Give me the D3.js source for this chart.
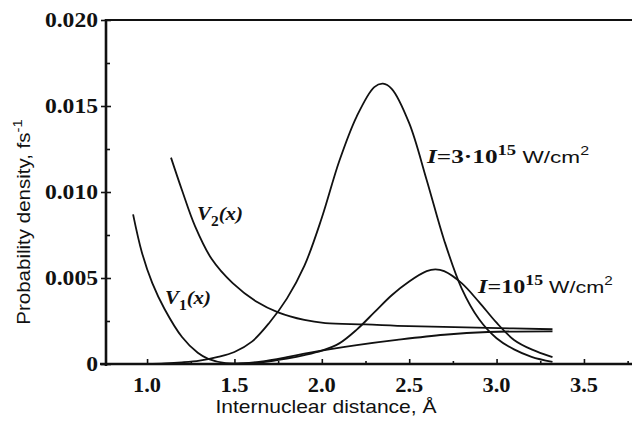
<!DOCTYPE html>
<html>
<head>
<meta charset="utf-8">
<script src="https://cdn.jsdelivr.net/npm/d3@7"></script>
<style>
  html, body { margin: 0; background: #fff; }
  svg { display: block; }
</style>
</head>
<body>
<svg id="chart" width="632" height="421"></svg>
<script>
// Potential curves V1(x), V2(x) (arbitrary units on the same axis)
const v1X = [0.92, 0.97, 1.03, 1.10, 1.20, 1.29, 1.35, 1.45, 1.55, 1.65, 1.80, 1.90, 2.05, 2.20, 2.43, 2.70, 2.95, 3.32];
const v1Y = [0.0087, 0.0065, 0.0047, 0.0032, 0.00157, 0.00065, 0.0003, 0.00005, 0.00004, 0.00014, 0.0004, 0.0006, 0.00087, 0.0011, 0.0014, 0.0017, 0.00186, 0.0019];

const v2X = [1.137, 1.20, 1.275, 1.37, 1.49, 1.63, 1.75, 1.90, 2.02, 2.25, 2.50, 2.95, 3.32];
const v2Y = [0.0120, 0.0101, 0.0080, 0.0061, 0.0047, 0.0036, 0.0030, 0.00256, 0.00238, 0.0023, 0.0022, 0.0021, 0.00202];

// Probability density at I = 3·10^15 W/cm^2
const p3X = [0.93, 1.0, 1.1, 1.2, 1.3, 1.4, 1.5, 1.6, 1.7, 1.8, 1.9, 2.0, 2.1, 2.2, 2.3, 2.35, 2.4, 2.5, 2.6, 2.7, 2.8, 2.9, 3.0, 3.1, 3.2, 3.32];
const p3Y = [0, 0.00001, 0.00004, 0.0001, 0.0002, 0.0004, 0.0007, 0.0013, 0.0024, 0.0038, 0.0057, 0.0085, 0.0118, 0.0144, 0.0161, 0.0163, 0.0160, 0.0140, 0.0107, 0.0072, 0.0044, 0.0026, 0.0015, 0.00085, 0.00042, 0.00012];

// Probability density at I = 10^15 W/cm^2
const p1X = [0.93, 1.2, 1.4, 1.5, 1.6, 1.7, 1.8, 1.9, 2.0, 2.1, 2.2, 2.3, 2.4, 2.5, 2.6, 2.65, 2.7, 2.8, 2.9, 3.0, 3.1, 3.2, 3.32];
const p1Y = [0, 0, 0.00001, 0.00002, 0.00006, 0.00016, 0.00032, 0.00052, 0.00078, 0.0012, 0.0020, 0.0030, 0.0040, 0.0048, 0.0054, 0.0055, 0.0054, 0.0047, 0.0036, 0.0024, 0.0014, 0.00085, 0.0004];

// Axis ticks
const xMajor = [1.0, 1.5, 2.0, 2.5, 3.0, 3.5];
const xMinor = [1.25, 1.75, 2.25, 2.75, 3.25, 3.75];
const yMajor = [0, 0.005, 0.010, 0.015, 0.020];
const yMinor = [0.0025, 0.0075, 0.0125, 0.0175];
const xDomain = [0.765, 3.775];
const yDomain = [0, 0.020];

const xTitle = "Internuclear distance, Å";
const yTitle = "Probability density, fs";

const serif = "'Liberation Serif','Times New Roman',serif";
const sans = "'Liberation Sans',Arial,Helvetica,sans-serif";
const ink = "#111";

const svg = d3.select("#chart");
const W = 632, H = 421;
const margin = { left: 106, top: 20, right: 0, bottom: 57 };

const x = d3.scaleLinear().domain(xDomain).range([margin.left, W - margin.right]);
const y = d3.scaleLinear().domain(yDomain).range([H - margin.bottom, margin.top]);

// text placed with a horizontal stretch (wide type face)
function wideText(parent, tx, ty, k, rot) {
  return parent.append("text")
    .attr("transform", `translate(${tx},${ty})` + (rot ? ` rotate(${rot})` : "") + ` scale(${k},1)`)
    .attr("fill", ink);
}

// ----- curves -----
const line = d3.line()
  .x(d => x(d[0]))
  .y(d => y(Math.max(0, d[1])))
  .curve(d3.curveCatmullRom.alpha(0.5));

const series = [
  d3.zip(v1X, v1Y),
  d3.zip(v2X, v2Y),
  d3.zip(p3X, p3Y),
  d3.zip(p1X, p1Y)
];

svg.append("g").selectAll("path")
  .data(series)
  .join("path")
  .attr("d", line)
  .attr("fill", "none")
  .attr("stroke", ink)
  .attr("stroke-width", 1.8)
  .attr("stroke-linejoin", "round");

// ----- frame and axes -----
const x0 = x.range()[0], x1 = x.range()[1];
const y0 = y.range()[0], y1 = y.range()[1];

const axisStyle = g => {
  g.select(".domain").remove();
  g.selectAll(".tick line").attr("stroke", ink).attr("stroke-width", 1.6);
  g.selectAll(".tick text").remove();
};

// left: outward and inward major ticks, inward minor ticks
svg.append("g").attr("transform", `translate(${x0},0)`)
  .call(d3.axisLeft(y).tickValues(yMajor).tickSize(5).tickFormat(""))
  .call(axisStyle);
svg.append("g").attr("transform", `translate(${x0},0)`)
  .call(d3.axisRight(y).tickValues(yMajor).tickSize(5).tickFormat(""))
  .call(axisStyle);
svg.append("g").attr("transform", `translate(${x0},0)`)
  .call(d3.axisRight(y).tickValues(yMinor).tickSize(4).tickFormat(""))
  .call(axisStyle);

// bottom: inward ticks
svg.append("g").attr("transform", `translate(0,${y0})`)
  .call(d3.axisTop(x).tickValues(xMajor).tickSize(5).tickFormat(""))
  .call(axisStyle);
svg.append("g").attr("transform", `translate(0,${y0})`)
  .call(d3.axisTop(x).tickValues(xMinor).tickSize(3).tickFormat(""))
  .call(axisStyle);

// axis lines
svg.append("line").attr("x1", x0).attr("x2", x0).attr("y1", y1 - 1).attr("y2", y0 + 2)
  .attr("stroke", ink).attr("stroke-width", 2.6);
svg.append("line").attr("x1", x0 - 6).attr("x2", x1).attr("y1", y0).attr("y2", y0)
  .attr("stroke", ink).attr("stroke-width", 2.6);
svg.append("line").attr("x1", x0).attr("x2", x1).attr("y1", y1).attr("y2", y1)
  .attr("stroke", ink).attr("stroke-width", 2.2);

// tick labels
const tickFont = g => g.attr("font-family", serif).attr("font-weight", "bold").attr("font-size", 20);

yMajor.forEach(v => {
  wideText(svg, x0 - 8, y(v) + 7, 1.18)
    .call(tickFont)
    .attr("text-anchor", "end")
    .text(v === 0 ? "0" : v.toFixed(3));
});

xMajor.forEach(v => {
  wideText(svg, x(v), y0 + 28, 1.12)
    .call(tickFont)
    .attr("text-anchor", "middle")
    .text(v.toFixed(1));
});

// axis titles
wideText(svg, 326, 413, 1.17)
  .attr("font-family", sans).attr("font-size", 18)
  .attr("text-anchor", "middle")
  .text(xTitle);

const yt = wideText(svg, 30, (y0 + y1) / 2 + 30, 1.14, -90)
  .attr("font-family", sans).attr("font-size", 18)
  .attr("text-anchor", "middle");
yt.append("tspan").text(yTitle);
yt.append("tspan").attr("font-size", 13).attr("dy", -8).text("-1");

// ----- curve labels -----
function vLabel(tx, ty, idx) {
  const t = wideText(svg, tx, ty, 1.1)
    .attr("font-family", serif).attr("font-weight", "bold")
    .attr("font-style", "italic").attr("font-size", 19);
  t.append("tspan").text("V");
  t.append("tspan").attr("font-size", 14).attr("font-style", "normal").attr("dy", 6).text(idx);
  t.append("tspan").attr("dy", -6).text("(x)");
}
vLabel(197, 220, "2");
vLabel(165, 304, "1");

function intensityLabel(tx, ty, k, mant) {
  const t = wideText(svg, tx, ty, k)
    .attr("font-family", serif).attr("font-weight", "bold").attr("font-size", 19);
  t.append("tspan").attr("font-style", "italic").text("I");
  t.append("tspan").text("=" + mant + "10");
  t.append("tspan").attr("font-size", 14).attr("dy", -8).text("15");
  t.append("tspan").attr("dy", 8).attr("font-family", sans).attr("font-weight", "normal")
    .attr("font-size", 17).text("\u00a0W/cm");
  t.append("tspan").attr("dy", -8).attr("font-family", sans).attr("font-weight", "normal")
    .attr("font-size", 12).text("2");
}
intensityLabel(427, 163, 1.33, "3\u00b7");
intensityLabel(478, 293, 1.27, "");
</script>
</body>
</html>
